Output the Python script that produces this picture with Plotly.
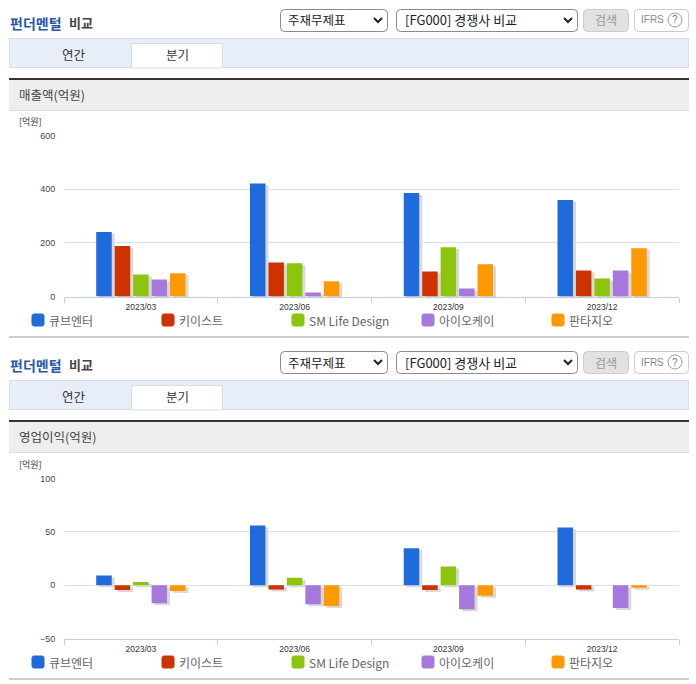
"""
Fundamental comparison panels: quarterly sales and operating profit
"""
from plotly import graph_objects as go

W, H = 696, 684
PANEL_SHIFT = 342

quarters = ['2023/03', '2023/06', '2023/09', '2023/12']
companies = ['큐브엔터', '키이스트', 'SM Life Design', '아이오케이', '판타지오']
colors = ['#1F6BDC', '#CC3300', '#8CC40E', '#A778DC', '#FF9900']

cube_sales = [240, 421, 386, 360]
keyeast_sales = [188, 127, 93, 97]
smld_sales = [82, 124, 184, 67]
iok_sales = [63, 15, 30, 97]
fantagio_sales = [87, 57, 120, 180]

cube_profit = [9, 56, 34.5, 54]
keyeast_profit = [-4.5, -4, -4.5, -4]
smld_profit = [3, 7, 17.5, 0]
iok_profit = [-17, -18, -22.5, -21.5]
fantagio_profit = [-5.5, -19.5, -10, -2.5]

sales_ticks = [0, 200, 400, 600]
profit_ticks = [-50, 0, 50, 100]

FONT = 'Liberation Sans, Noto Sans CJK KR, sans-serif'
KR_FONT = 'Noto Sans CJK KR, sans-serif'
AXIS_COLOR = '#C0D0E0'
GRID_COLOR = '#DDE1E6'

fig = go.Figure()
shapes = []
annotations = []


def px(x):
    return x / W


def py(y):
    return 1 - y / H


def add_rect(x0, y0, x1, y1, fill, line=None):
    shapes.append(dict(type='rect', xref='paper', yref='paper', x0=px(x0), x1=px(x1), y0=py(y0), y1=py(y1),
                       fillcolor=fill, line=dict(color=line, width=1) if line else dict(width=0), layer='below'))


def add_round_rect(x0, y0, x1, y1, fill, line, r=4):
    p = [f'M {px(x0 + r)} {py(y0)}', f'L {px(x1 - r)} {py(y0)}', f'Q {px(x1)} {py(y0)} {px(x1)} {py(y0 + r)}',
         f'L {px(x1)} {py(y1 - r)}', f'Q {px(x1)} {py(y1)} {px(x1 - r)} {py(y1)}', f'L {px(x0 + r)} {py(y1)}',
         f'Q {px(x0)} {py(y1)} {px(x0)} {py(y1 - r)}', f'L {px(x0)} {py(y0 + r)}',
         f'Q {px(x0)} {py(y0)} {px(x0 + r)} {py(y0)}', 'Z']
    shapes.append(dict(type='path', xref='paper', yref='paper', path=' '.join(p), fillcolor=fill,
                       line=dict(color=line, width=1), layer='below'))


def add_chevron(x, y):
    p = f'M {px(x - 4)} {py(y - 2)} L {px(x)} {py(y + 2)} L {px(x + 4)} {py(y - 2)}'
    shapes.append(dict(type='path', xref='paper', yref='paper', path=p, line=dict(color='#222222', width=2)))


def add_text(x, y, text, size=12, color='#444444', anchor='left', family=KR_FONT):
    annotations.append(dict(xref='paper', yref='paper', x=px(x), y=py(y), text=text, showarrow=False, xanchor=anchor,
                            yanchor='middle', font=dict(size=size, color=color, family=family), borderpad=0, borderwidth=0))


def add_chrome(dy, heading):
    # title and the search controls
    add_text(10, 23 + dy, '<b>펀더멘털</b>', size=14, color='#2B57A6')
    add_text(69, 23 + dy, '<b>비교</b>', size=13, color='#444444')
    add_round_rect(280.5, 9.5 + dy, 387.5, 31.5 + dy, 'white', '#8A8A8A')
    add_text(288, 20 + dy, '주재무제표', size=12.5, color='#222222')
    add_chevron(378, 20 + dy)
    add_round_rect(396.5, 9.5 + dy, 577.5, 31.5 + dy, 'white', '#8A8A8A')
    add_text(405, 20 + dy, '[FG000] 경쟁사 비교', size=13, color='#222222')
    add_chevron(568, 20 + dy)
    add_round_rect(583.5, 9.5 + dy, 628.5, 31.5 + dy, '#E2E2E2', '#CCCCCC')
    add_text(606, 20 + dy, '검색', size=12, color='#999999', anchor='center')
    add_round_rect(634.5, 9.5 + dy, 688.5, 31.5 + dy, 'white', '#CCCCCC')
    add_text(641, 20 + dy, 'IFRS', size=10, color='#888888', family=FONT)
    shapes.append(dict(type='circle', xref='paper', yref='paper', x0=px(668), x1=px(682), y0=py(13 + dy), y1=py(27 + dy),
                       line=dict(color='#999999', width=1)))
    add_text(675, 20 + dy, '?', size=10, color='#777777', anchor='center', family=FONT)

    # tabs
    add_rect(9.5, 38.5 + dy, 688.5, 67.5 + dy, '#E7EEF8', '#D5DDE8')
    add_rect(131.5, 43.5 + dy, 222.5, 68 + dy, 'white', '#D5DDE8')
    add_text(74, 54 + dy, '연간', size=12.5, color='#333333', anchor='center')
    add_text(177, 55 + dy, '분기', size=12.5, color='#333333', anchor='center')

    # heading strip
    add_rect(9, 80 + dy, 689, 110 + dy, '#EEEEEE')
    add_rect(9, 110 + dy, 689, 111 + dy, '#DDDDDD')
    add_rect(9, 78 + dy, 689, 80 + dy, '#333333')
    add_text(19, 95 + dy, heading, size=12.5, color='#444444')
    add_text(19, 122 + dy, '[억원]', size=9, color='#333333')

    # legend row
    for i, (name, color) in enumerate(zip(companies, colors)):
        left = 32 + 130 * i
        add_round_rect(left, 314 + dy, left + 12, 326 + dy, color, color, r=2)
        add_text(left + 17, 320 + dy, name, size=12, color='#666666')

    add_rect(9, 336 + dy, 689, 338 + dy, '#CCCCCC')


def add_panel(series, ticks, top, bottom, shadow_no):
    # shadow bars sit on a hidden copy of the axes moved a few pixels, main bars go on the next pair
    main_no = shadow_no + 1
    for axis_no, is_shadow in ((shadow_no, True), (main_no, False)):
        x_name = f'x{axis_no}'
        y_name = f'y{axis_no}'
        off_x, off_y = (3, 2) if is_shadow else (0, 0)
        for name, values, color in zip(companies, series, colors):
            fig.add_trace(go.Bar(x=quarters, y=values, name=name, xaxis=x_name, yaxis=y_name, showlegend=False,
                                 marker=dict(color='rgba(120,120,120,0.28)' if is_shadow else color, line_width=0),
                                 hoverinfo='skip' if is_shadow else None))
        fig.layout[f'xaxis{axis_no}'] = dict(
            domain=[px(64 + off_x), px(679 + off_x)], anchor=y_name, type='category', categoryorder='array',
            categoryarray=quarters, visible=not is_shadow, showgrid=False, showline=True, linecolor=AXIS_COLOR,
            linewidth=1, ticks='outside', ticklen=5, tickcolor=AXIS_COLOR, tickson='boundaries', ticklabelstandoff=2,
            tickfont=dict(size=8.5, color='#333333', family=FONT), automargin=False)
        fig.layout[f'yaxis{axis_no}'] = dict(
            domain=[py(bottom + off_y), py(top + off_y)], anchor=x_name, range=[ticks[0], ticks[-1]], tickvals=ticks,
            visible=not is_shadow, showgrid=True, gridcolor=GRID_COLOR, gridwidth=1, zeroline=False, showline=False,
            ticks='outside', ticklen=6, tickcolor='rgba(0,0,0,0)',
            tickfont=dict(size=9, color='#444444', family=FONT), automargin=False)


add_panel([cube_sales, keyeast_sales, smld_sales, iok_sales, fantagio_sales], sales_ticks, 135.5, 296.5, 1)
add_panel([cube_profit, keyeast_profit, smld_profit, iok_profit, fantagio_profit], profit_ticks, 478.5, 638.5, 3)

add_chrome(0, '매출액(억원)')
add_chrome(PANEL_SHIFT, '영업이익(억원)')

fig.update_layout(width=W, height=H, autosize=False, margin=dict(l=0, r=0, t=0, b=0), barmode='group', bargap=0.4,
                  bargroupgap=0.16, plot_bgcolor='rgba(0,0,0,0)', paper_bgcolor='white', showlegend=False,
                  shapes=shapes, annotations=annotations, font=dict(family=FONT))

fig.write_html("out.html", config={'displayModeBar': False}, post_script="document.body.style.margin='0';")
